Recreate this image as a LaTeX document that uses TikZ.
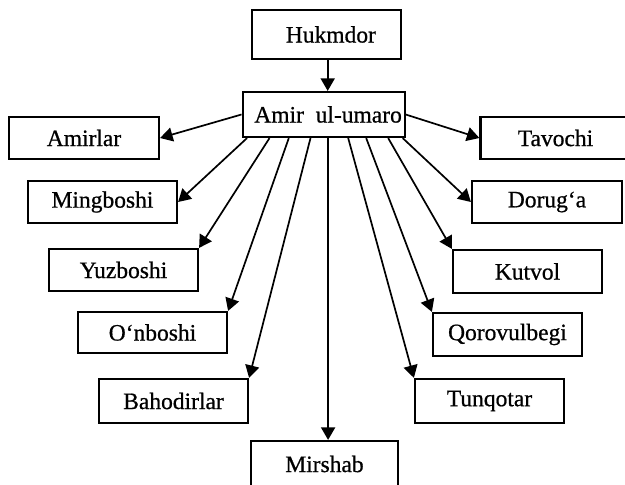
\documentclass[tikz,border=0pt]{standalone}
\usepackage{fontspec}
\setmainfont{Liberation Serif}
\newfontfamily\boxfont[FakeBold=0.7]{Liberation Serif}
\usetikzlibrary{arrows.meta,calc}
\begin{document}
\begin{tikzpicture}[x=1pt,y=-1pt,
  box/.style={draw, line width=2.2pt, minimum width=#1, minimum height=42pt,
    inner sep=0pt, font=\boxfont\fontsize{23.5}{26}\selectfont},
  box/.default=149pt,
  conn/.style={line width=1.7pt, -{Triangle[length=12.5pt,width=14pt]}}]
\useasboundingbox (0,0) rectangle (625,485);
\clip (0,0) rectangle (625,485);
\fill[white] (0,0) rectangle (625,485);

\node[box=149pt, minimum height=49pt] (hukmdor) at (326.4,34.5) {\hspace*{9pt}Hukmdor};
\node[box=162pt, minimum height=45pt] (amir) at (323.6,114.5) {\hspace*{9pt}Amir\ \ ul-umaro};

\node[box=150pt] (amirlar) at (84,138) {Amirlar};
\node[box=149pt] (mingboshi) at (102.5,202) {Mingboshi};
\node[box=149pt] (yuzboshi) at (123.5,270) {Yuzboshi};
\node[box=149pt, minimum height=41pt] (onboshi) at (152.5,332.5) {O‘nboshi};
\node[box=149pt, minimum height=44pt] (bahodirlar) at (173.5,401) {Bahodirlar};
\node[box=147pt, minimum height=46pt] (mirshab) at (324.5,464) {Mirshab};
\node[box=150pt] (tavochi) at (555.5,138) {Tavochi};
\node[box=150pt] (doruga) at (547,202) {Dorug‘a};
\node[box=149pt, minimum height=43pt] (kutvol) at (527.5,271.5) {Kutvol};
\node[box=149pt, minimum height=43pt] (qorovulbegi) at (507.5,334.5) {Qorovulbegi};
\node[box=149pt, minimum height=44pt] (tunqotar) at (489.5,401) {Tunqotar};

\coordinate (hk) at ([xshift=1.3pt]hukmdor.south);
\draw[conn] (hk) -- (hk |- amir.north);
\draw[conn] (amir.west) -- (amirlar.east);
\draw[conn] (amir.east) -- (tavochi.west);
\draw[conn] ([xshift=5.5pt]amir.south west) -- (mingboshi.east);
\draw[conn] ([xshift=28pt]amir.south west) -- (yuzboshi.north east);
\draw[conn] ([xshift=47.3pt]amir.south west) -- (onboshi.north east);
\draw[conn] ([xshift=69pt]amir.south west) -- (bahodirlar.north east);
\coordinate (ms) at ([xshift=4.5pt]amir.south);
\draw[conn] (ms) -- (ms |- mirshab.north);
\draw[conn] ([xshift=-57.5pt]amir.south east) -- (tunqotar.north west);
\draw[conn] ([xshift=-39.5pt]amir.south east) -- (qorovulbegi.north west);
\draw[conn] ([xshift=-17.5pt]amir.south east) -- (kutvol.north west);
\draw[conn] ([xshift=-3pt]amir.south east) -- (doruga.west);
\end{tikzpicture}
\end{document}
